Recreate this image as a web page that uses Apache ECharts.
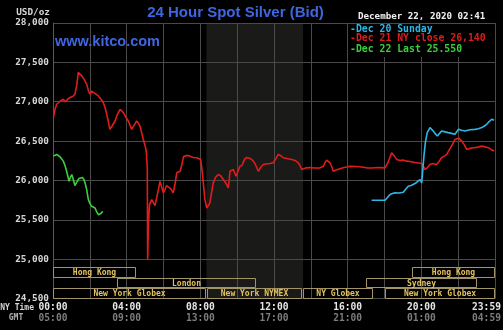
<!DOCTYPE html>
<html><head><meta charset="utf-8">
<script src="https://cdn.jsdelivr.net/npm/echarts@6/dist/echarts.min.js"></script>
<style>html,body{margin:0;padding:0;background:#000}#c{width:503px;height:330px}</style>
</head><body><div id="c"></div>
<script>
// ---------- texts ----------
const titleText = '24 Hour Spot Silver (Bid)';
const siteText = 'www.kitco.com';
const dateText = 'December 22, 2020 02:41';
const unitText = 'USD/oz';
const legendLabels = ['-Dec 20 Sunday', '-Dec 21 NY close 26,140', '-Dec 22 Last 25.550'];
const rowLabelNY = 'NY Time';
const rowLabelGMT = 'GMT';

// ---------- axes ----------
const yMin = 24500, yMax = 28000, yStep = 500;
const xTickHours = [0, 4, 8, 12, 16, 20, 24];
const xTickNY = ['00:00', '04:00', '08:00', '12:00', '16:00', '20:00', '23:59'];
const xTickGMT = ['05:00', '09:00', '13:00', '17:00', '21:00', '01:00', '04:59'];

// ---------- NYMEX pit hours shading (hours, NY time) ----------
const pitStart = 8.33, pitEnd = 13.58;

// ---------- trading sessions ----------
const sessionNames = ['Hong Kong', 'London', 'New York Globex', 'New York NYMEX', 'NY Globex', 'New York Globex', 'Sydney', 'Hong Kong'];
const sessionStart = [0, 3.5, 0, 8.35, 13.55, 18.05, 17.0, 19.5];
const sessionEnd = [4.5, 11.0, 8.3, 13.5, 17.4, 24, 23.0, 24];
const sessionRow = [2, 1, 0, 0, 0, 0, 1, 2];
const sessionRows = ['r3', 'r2', 'r1'];

// ---------- Dec 21 (red) ----------
const dec21Hours = [0.02,0.11,0.2,0.38,0.56,0.65,0.81,0.92,1.09,1.19,1.3,1.37,1.47,1.56,1.68,1.83,1.93,2.01,2.09,2.19,2.33,2.46,2.61,2.73,2.82,2.92,3.01,3.09,3.2,3.37,3.5,3.64,3.72,3.82,3.96,4.09,4.18,4.27,4.4,4.54,4.64,4.72,4.81,4.9,5.03,5.08,5.12,5.14,5.18,5.24,5.27,5.36,5.45,5.54,5.63,5.72,5.81,5.9,5.99,6.08,6.17,6.26,6.38,6.53,6.62,6.72,6.8,6.9,7.0,7.09,7.17,7.3,7.44,7.6,7.8,7.9,8.02,8.09,8.16,8.25,8.35,8.43,8.52,8.62,8.7,8.82,8.97,9.09,9.25,9.4,9.52,9.57,9.61,9.69,9.79,9.88,9.94,10.04,10.15,10.26,10.4,10.51,10.6,10.72,10.88,10.99,11.15,11.27,11.42,11.56,11.78,11.96,12.08,12.23,12.35,12.5,12.7,12.96,13.14,13.32,13.41,13.5,13.63,13.77,13.95,14.17,14.5,14.68,14.77,14.86,14.95,15.04,15.13,15.22,15.37,15.58,15.8,15.96,16.13,16.4,16.67,17.03,17.32,17.65,18.03,18.19,18.39,18.51,18.66,18.84,19.0,19.2,19.38,19.65,20.02,20.09,20.2,20.33,20.47,20.63,20.83,20.96,21.1,21.23,21.38,21.47,21.56,21.69,21.83,21.92,22.05,22.19,22.32,22.46,22.64,22.82,23.02,23.28,23.46,23.64,23.78,23.95];
const dec21Values = [26798,26904,26968,27006,27032,26998,27032,27053,27070,27096,27223,27372,27351,27329,27287,27223,27134,27096,27134,27125,27096,27074,27032,26990,26930,26840,26739,26649,26688,26755,26840,26904,26917,26862,26802,26755,26700,26649,26700,26755,26726,26691,26611,26522,26416,26330,26139,25000,25437,25692,25714,25756,25718,25680,25782,25884,25986,26011,25842,25884,25935,25948,25897,25842,25948,26097,26113,26117,26203,26305,26330,26318,26309,26292,26288,26297,26267,26139,25969,25756,25650,25667,25714,25858,25969,26037,26075,26062,26011,25960,25906,26011,26117,26113,26139,26088,26054,26113,26181,26190,26267,26292,26309,26279,26245,26203,26117,26164,26203,26209,26215,26224,26267,26330,26318,26288,26279,26267,26254,26224,26190,26139,26152,26160,26164,26158,26160,26181,26228,26258,26254,26224,26177,26117,26132,26148,26164,26171,26181,26177,26173,26160,26158,26164,26160,26228,26352,26318,26267,26254,26260,26245,26241,26228,26215,26190,26139,26164,26203,26215,26203,26241,26288,26305,26330,26369,26394,26458,26522,26543,26534,26500,26458,26394,26407,26416,26420,26437,26426,26416,26394,26375];

// ---------- Dec 20 (cyan) ----------
const dec20Hours = [17.3,17.65,18.03,18.16,18.3,18.43,18.57,18.79,19.02,19.14,19.29,19.44,19.66,19.79,19.93,20.02,20.06,20.14,20.22,20.32,20.47,20.56,20.65,20.74,20.87,20.99,21.1,21.28,21.46,21.64,21.83,22.01,22.18,22.37,22.64,22.91,23.1,23.28,23.4,23.55,23.67,23.82,23.95];
const dec20Values = [25748,25748,25748,25782,25820,25833,25842,25840,25850,25884,25926,25935,25960,25986,26011,25969,26075,26309,26484,26607,26671,26650,26628,26598,26564,26598,26628,26617,26607,26598,26586,26649,26637,26628,26643,26649,26656,26671,26688,26713,26745,26777,26764];

// ---------- Dec 22 (green) ----------
const dec22Hours = [0.02,0.11,0.2,0.3,0.38,0.47,0.56,0.65,0.74,0.81,0.87,0.94,1.02,1.1,1.19,1.26,1.32,1.41,1.5,1.59,1.68,1.75,1.83,1.92,2.01,2.1,2.19,2.28,2.37,2.46,2.55,2.62,2.7];
const dec22Values = [26309,26324,26330,26318,26301,26279,26245,26190,26117,26050,25990,26037,26075,26011,25935,25960,25990,26024,26046,26037,26011,25960,25884,25756,25705,25671,25660,25650,25603,25565,25587,25584,25607];

const pair = (h, v) => h.map((x, i) => [x, v[i]]);
const MONO = '"DejaVu Sans Mono", monospace';
const SANS = '"Liberation Sans", Arial, sans-serif';
const BLUE = '#3f66e0';
const RED = '#e01c1c', CYAN = '#2fb6e4', GREEN = '#3ccf3c';
const GRID = '#4a4a4a';

const chart = echarts.init(document.getElementById('c'), null, {renderer: 'canvas'});
const fmtNum = v => String(v).replace(/\B(?=(\d{3})+(?!\d))/g, ',');
const lab = (c, pad) => ({fontFamily: MONO, fontWeight: 'bold', fontSize: 9.6, color: c, lineHeight: 10.5, padding: pad});

chart.setOption({
  backgroundColor: '#000',
  animation: false,
  grid: [
    {left: 53, top: 23, width: 442, height: 275.5, containLabel: false, outerBoundsMode: 'none'},
    {left: 53, top: 267, width: 442, height: 31.5, containLabel: false, outerBoundsMode: 'none'}
  ],
  xAxis: [{
    type: 'value', gridIndex: 0, min: 0, max: 24, interval: 4, z: 2,
    axisLine: {show: false}, axisTick: {show: false},
    splitLine: {show: false},
    axisLabel: {
      margin: 4,
      showMinLabel: true, showMaxLabel: true, hideOverlap: false,
      formatter: v => {
        const i = xTickHours.indexOf(v);
        if (i < 0) return '';
        if (i === xTickHours.length - 1) return '{nl|' + xTickNY[i] + '}\n{gl|' + xTickGMT[i] + '}';
        return '{n|' + xTickNY[i] + '}\n{g|' + xTickGMT[i] + '}';
      },
      rich: {
        n: lab('#e6e6e6', [0, 0, 0, 0]),
        g: lab('#7d7d7d', [0, 0, 0, 0]),
        nl: lab('#e6e6e6', [0, 17, 0, 0]),
        gl: lab('#7d7d7d', [0, 17, 0, 0])
      }
    }
  }, {
    type: 'value', gridIndex: 1, min: 0, max: 24, show: false
  }, {
    type: 'value', gridIndex: 0, min: 0, max: 24, interval: 2, z: 2,
    axisLine: {show: false}, axisTick: {show: false}, axisLabel: {show: false},
    splitLine: {show: true, lineStyle: {color: GRID, width: 1}}
  }],
  yAxis: [{
    type: 'value', gridIndex: 0, min: yMin, max: yMax, interval: yStep, z: 2,
    axisLine: {show: true, lineStyle: {color: '#5a5a5a'}},
    axisTick: {show: false},
    splitLine: {show: true, lineStyle: {color: GRID, width: 1}},
    axisLabel: {margin: 4, color: '#d6d6d6', fontFamily: MONO, fontWeight: 'bold', fontSize: 9.4, formatter: fmtNum}
  }, {
    type: 'category', gridIndex: 1, data: sessionRows, show: false
  }],
  series: [
    {
      type: 'line', xAxisIndex: 0, yAxisIndex: 0, data: [], z: 1, silent: true,
      markArea: {silent: true, z: 1, itemStyle: {color: '#1a1a18'}, data: [[{xAxis: pitStart}, {xAxis: pitEnd}]]}
    },
    {
      type: 'custom', xAxisIndex: 1, yAxisIndex: 1, silent: true, z: 3,
      data: sessionNames.map((n, i) => [sessionStart[i], sessionEnd[i], sessionRow[i]]),
      renderItem: (params, api) => {
        const s = api.value(0), e = api.value(1), row = api.value(2);
        const p0 = api.coord([s, row]), p1 = api.coord([e, row]);
        const h = api.size([0, 1])[1];
        const x0 = Math.round(p0[0]) + 0.5, x1 = Math.round(p1[0]) - 0.5;
        const yc = p0[1];
        const y0 = Math.round(yc - h / 2) + 0.5, y1 = Math.round(yc + h / 2) - 0.5;
        return {type: 'group', children: [
          {type: 'rect', shape: {x: x0, y: y0, width: x1 - x0, height: y1 - y0},
           style: {fill: null, stroke: '#a39468', lineWidth: 1}},
          {type: 'text', style: {text: sessionNames[params.dataIndex], x: (x0 + x1) / 2, y: (y0 + y1) / 2 + 0.5,
            align: 'center', verticalAlign: 'middle', fill: '#e4c25a', font: 'bold 8px ' + MONO}}
        ]};
      }
    },
    {type: 'line', name: 'Dec 21', data: pair(dec21Hours, dec21Values), showSymbol: false, z: 4,
     lineStyle: {color: RED, width: 1.6}, itemStyle: {color: RED}},
    {type: 'line', name: 'Dec 20', data: pair(dec20Hours, dec20Values), showSymbol: false, z: 4,
     lineStyle: {color: CYAN, width: 1.6}, itemStyle: {color: CYAN}},
    {type: 'line', name: 'Dec 22', data: pair(dec22Hours, dec22Values), showSymbol: false, z: 4,
     lineStyle: {color: GREEN, width: 1.6}, itemStyle: {color: GREEN}}
  ],
  graphic: [
    {type: 'text', x: 50, y: 12.5, z: 10, style: {text: unitText, align: 'right', verticalAlign: 'middle', fill: '#d6d6d6', font: 'bold 9.4px ' + MONO}},
    {type: 'text', x: 235.5, y: 13, z: 10, style: {text: titleText, align: 'center', verticalAlign: 'middle', fill: BLUE, font: 'bold 15px ' + SANS}},
    {type: 'text', x: 55, y: 41.5, z: 10, style: {text: siteText, align: 'left', verticalAlign: 'middle', fill: BLUE, font: 'bold 14.5px ' + SANS}},
    {type: 'text', x: 358, y: 17, z: 10, style: {text: dateText, align: 'left', verticalAlign: 'middle', fill: '#f0f0f0', font: 'bold 9.2px ' + MONO}},
    {type: 'rect', z: 10, shape: {x: 349.5, y: 24, width: 145, height: 33}, style: {fill: '#000'}},
    {type: 'text', x: 350, y: 29, z: 11, style: {text: legendLabels[0], align: 'left', verticalAlign: 'middle', fill: CYAN, font: 'bold 9.8px ' + MONO}},
    {type: 'text', x: 350, y: 38.5, z: 11, style: {text: legendLabels[1], align: 'left', verticalAlign: 'middle', fill: RED, font: 'bold 9.8px ' + MONO}},
    {type: 'text', x: 350, y: 49.5, z: 11, style: {text: legendLabels[2], align: 'left', verticalAlign: 'middle', fill: GREEN, font: 'bold 9.8px ' + MONO}},
    {type: 'text', x: 34, y: 307.5, z: 10, style: {text: rowLabelNY, align: 'right', verticalAlign: 'middle', fill: '#d6d6d6', font: 'bold 8px ' + MONO}},
    {type: 'text', x: 16, y: 318, z: 10, style: {text: rowLabelGMT, align: 'center', verticalAlign: 'middle', fill: '#b0b0b0', font: 'bold 8px ' + MONO}}
  ]
});
</script></body></html>
